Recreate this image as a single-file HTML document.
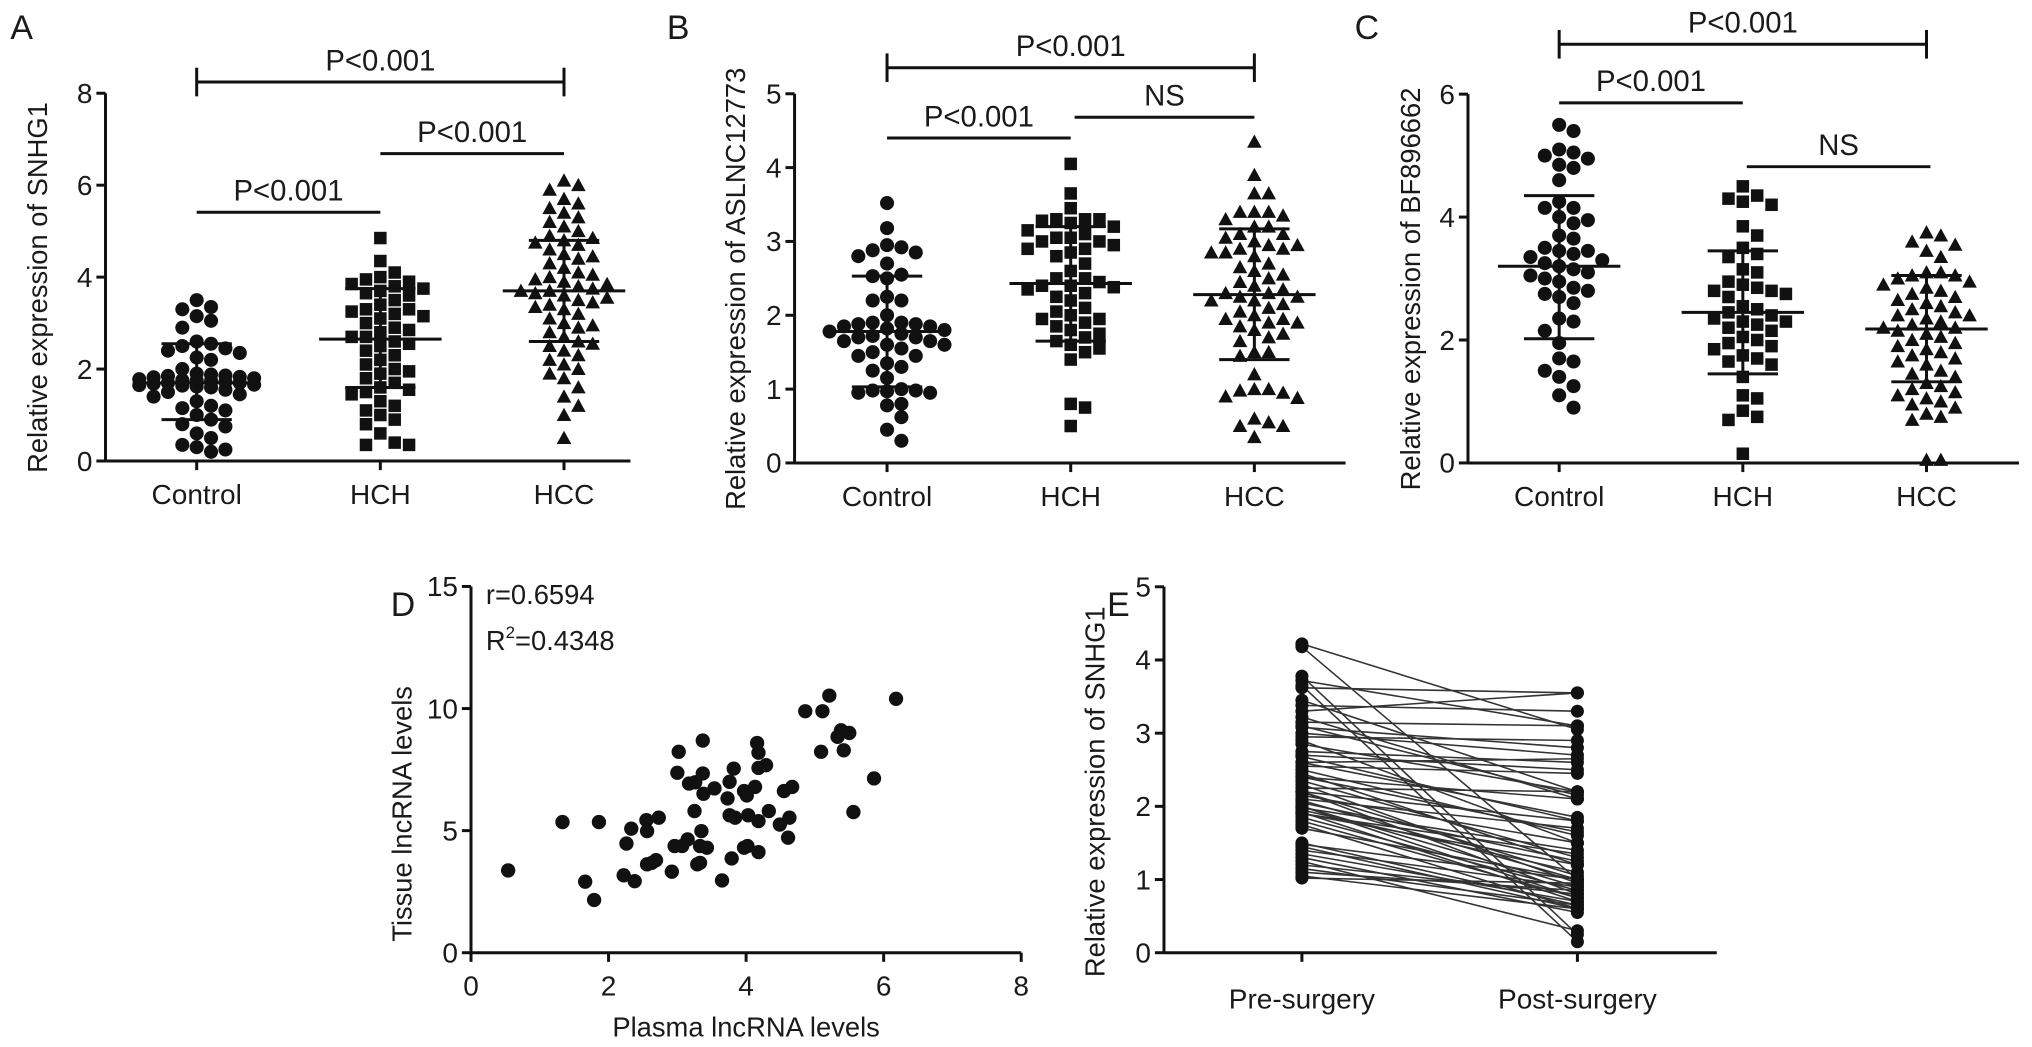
<!DOCTYPE html>
<html><head><meta charset="utf-8"><style>
html,body{margin:0;padding:0;background:#fff;}
svg{display:block;}
text{font-family:"Liberation Sans",Arial,sans-serif;fill:#1a1a1a;}
</style></head><body>
<svg id="fig" width="2032" height="1047" viewBox="0 0 1560 804" preserveAspectRatio="none" xmlns="http://www.w3.org/2000/svg"></svg>
<script>
// ---------- DATA ----------
const groupCats = ["Control","HCH","HCC"];
// Panel A: SNHG1
const aControl = [3.5,3.35,3.3,3.15,3.05,2.9,2.6,2.55,2.5,2.45,2.4,2.35,2.25,2.2,2.0,1.9,1.88,1.86,1.85,1.83,1.82,1.8,1.78,1.76,1.75,1.74,1.72,1.7,1.7,1.68,1.66,1.65,1.64,1.62,1.6,1.55,1.5,1.45,1.4,1.3,1.2,1.15,1.1,1.0,0.9,0.8,0.75,0.6,0.5,0.35,0.3,0.25,0.2];
const aHCH = [4.85,4.35,4.1,4.0,3.95,3.9,3.85,3.8,3.75,3.7,3.65,3.6,3.5,3.4,3.3,3.3,3.25,3.2,3.15,3.1,3.0,2.9,2.85,2.8,2.7,2.7,2.6,2.55,2.5,2.4,2.3,2.2,2.1,2.0,1.95,1.9,1.8,1.7,1.6,1.55,1.5,1.45,1.3,1.2,1.1,1.0,0.9,0.8,0.6,0.4,0.35,0.35];
const aHCC = [6.1,6.0,5.9,5.7,5.6,5.5,5.4,5.3,5.2,5.1,5.0,4.9,4.85,4.8,4.75,4.7,4.6,4.5,4.45,4.4,4.3,4.2,4.1,4.05,4.0,3.95,3.9,3.85,3.8,3.75,3.7,3.7,3.65,3.6,3.55,3.5,3.45,3.4,3.35,3.3,3.2,3.1,3.0,2.95,2.9,2.8,2.7,2.6,2.55,2.5,2.4,2.3,2.2,2.1,2.0,1.9,1.8,1.6,1.4,1.2,1.0,0.5];
const aMean = [1.7,2.65,3.7];
const aUpper = [2.55,3.75,4.8];
const aLower = [0.9,1.6,2.6];
const aTicks = [0,2,4,6,8];
// Panel B: ASLNC12773
const bControl = [3.52,3.18,2.95,2.92,2.88,2.85,2.8,2.7,2.55,2.53,2.5,2.25,2.2,2.2,2.0,1.9,1.9,1.88,1.88,1.85,1.85,1.82,1.8,1.78,1.75,1.72,1.7,1.7,1.65,1.65,1.6,1.6,1.55,1.5,1.45,1.45,1.35,1.3,1.25,1.15,1.0,0.98,0.98,0.97,0.95,0.95,0.8,0.78,0.62,0.45,0.3];
const bHCH = [4.05,3.65,3.45,3.3,3.3,3.3,3.28,3.25,3.2,3.15,3.1,3.05,3.05,3.0,3.0,2.95,2.9,2.9,2.85,2.8,2.7,2.6,2.5,2.5,2.45,2.4,2.4,2.38,2.35,2.3,2.25,2.2,2.1,2.05,2.0,1.95,1.95,1.9,1.85,1.8,1.75,1.7,1.65,1.6,1.55,1.5,1.4,0.8,0.75,0.5];
const bHCC = [4.35,3.9,3.65,3.65,3.4,3.4,3.4,3.35,3.3,3.2,3.2,3.1,3.1,3.05,3.0,2.95,2.95,2.9,2.9,2.85,2.85,2.8,2.7,2.65,2.6,2.55,2.5,2.45,2.4,2.35,2.3,2.3,2.25,2.25,2.2,2.2,2.15,2.1,2.05,2.0,1.95,1.95,1.9,1.9,1.85,1.8,1.75,1.7,1.65,1.5,1.5,1.45,1.2,1.0,1.0,0.98,0.95,0.9,0.88,0.6,0.55,0.5,0.5,0.35];
const bMean = [1.78,2.43,2.28];
const bUpper = [2.53,3.2,3.17];
const bLower = [1.03,1.65,1.4];
const bTicks = [0,1,2,3,4,5];
// Panel C: BF896662
const cControl = [5.5,5.4,5.1,5.05,5.0,4.95,4.85,4.8,4.6,4.25,4.15,4.15,4.0,3.95,3.9,3.7,3.65,3.5,3.45,3.45,3.4,3.35,3.3,3.25,3.2,3.15,3.1,3.05,3.0,2.95,2.85,2.8,2.75,2.7,2.6,2.35,2.3,2.15,1.95,1.7,1.65,1.5,1.4,1.25,1.1,0.9];
const cHCH = [4.5,4.35,4.3,4.25,4.2,3.85,3.7,3.5,3.4,3.35,3.15,3.1,2.95,2.9,2.85,2.8,2.8,2.75,2.7,2.55,2.5,2.45,2.4,2.35,2.3,2.3,2.25,2.2,2.15,2.05,2.0,1.95,1.9,1.85,1.75,1.7,1.65,1.6,1.4,1.1,1.05,0.85,0.75,0.7,0.15];
const cHCC = [3.75,3.7,3.6,3.55,3.45,3.35,3.1,3.1,3.05,3.05,3.0,2.95,2.9,2.85,2.8,2.75,2.7,2.65,2.6,2.55,2.5,2.45,2.4,2.4,2.35,2.3,2.25,2.2,2.2,2.15,2.1,2.05,2.0,1.95,1.9,1.85,1.8,1.75,1.7,1.65,1.6,1.5,1.45,1.4,1.3,1.25,1.2,1.15,1.1,1.05,1.0,0.95,0.9,0.8,0.75,0.7,0.05,0.05];
const cMean = [3.2,2.45,2.18];
const cUpper = [4.35,3.45,3.05];
const cLower = [2.02,1.45,1.32];
const cTicks = [0,2,4,6];
// Panel D: scatter plasma vs tissue
const dPlasma = [0.54,1.33,1.86,1.66,1.79,2.26,2.33,2.22,2.38,2.55,2.56,2.73,2.56,2.63,2.69,2.92,3.02,3.0,2.96,3.07,3.15,3.17,3.26,3.25,3.37,3.37,3.38,3.29,3.33,3.35,3.33,3.43,3.54,3.65,3.73,3.76,3.82,3.76,3.84,3.79,3.97,4.01,3.97,4.02,4.03,4.13,4.16,4.18,4.18,4.18,4.18,4.29,4.33,4.49,4.55,4.67,4.63,4.61,4.86,5.11,5.21,5.09,5.33,5.38,5.5,5.42,5.56,5.86,6.18];
const dTissue = [3.37,5.35,5.35,2.91,2.16,4.47,5.08,3.17,2.93,5.43,4.98,5.53,3.62,3.68,3.79,3.32,8.23,7.37,4.37,4.37,4.64,6.93,6.98,5.8,8.69,7.34,6.51,3.62,3.68,4.98,4.37,4.3,6.73,2.96,6.32,7.0,7.54,5.63,5.53,3.86,6.62,6.44,4.3,4.37,5.63,6.79,8.59,8.19,7.57,5.39,4.12,7.68,5.8,5.25,6.62,6.79,5.53,4.71,9.89,9.89,10.53,8.23,8.84,9.11,9.0,8.29,5.76,7.14,10.4];
const dXTicks = [0,2,4,6,8];
const dYTicks = [0,5,10,15];
// Panel E: paired pre/post
const ePre = [4.22,4.18,3.78,3.72,3.65,3.62,3.45,3.38,3.3,3.22,3.15,3.08,3.0,2.95,2.9,2.85,2.75,2.7,2.68,2.6,2.55,2.5,2.45,2.4,2.35,2.3,2.25,2.2,2.2,2.15,2.1,2.08,2.05,2.0,1.98,1.95,1.92,1.9,1.85,1.8,1.75,1.7,1.5,1.48,1.45,1.4,1.35,1.3,1.25,1.2,1.15,1.1,1.05,1.02,2.6,2.4,3.1,1.9,2.0,2.2];
const ePost = [3.05,1.0,0.25,3.1,0.15,3.55,2.2,3.3,3.55,2.1,3.1,2.8,2.7,2.9,1.5,2.2,2.6,2.5,1.8,2.65,2.45,1.6,1.2,2.1,1.3,0.95,2.2,1.8,0.8,1.5,1.7,1.0,1.25,0.9,1.4,1.1,0.7,1.2,0.85,0.75,0.6,1.0,0.65,1.0,0.6,0.9,0.7,0.55,0.3,0.8,0.65,0.85,0.6,0.95,1.85,1.65,2.15,1.35,0.75,1.05];
const eCats = ["Pre-surgery","Post-surgery"];
const eTicks = [0,1,2,3,4,5];

// ---------- DRAWING ----------
const NS = "http://www.w3.org/2000/svg";
const svg = document.getElementById('fig');
function mk(tag, attrs, parent){
  const e = document.createElementNS(NS, tag);
  for (const k in attrs) e.setAttribute(k, attrs[k]);
  (parent||svg).appendChild(e);
  return e;
}
function txt(s, x, y, size, anchor, parent, name, rot){
  const t = mk('text', {x:x, y:y, 'font-size':size, 'text-anchor':anchor||'middle'}, parent);
  if (rot) t.setAttribute('transform', 'rotate(-90 '+x+' '+y+')');
  t.textContent = s;
  
  
  return t;
}
function line(x1,y1,x2,y2,w,parent,name,color){
  const l = mk('line', {x1:x1,y1:y1,x2:x2,y2:y2,stroke:color||'#111','stroke-width':w||2.3}, parent);
  
  
  return l;
}
function beeswarm(vals, yScale, cx, diam){
  const placed = [];
  const sorted = vals.slice().sort((a,b)=>b-a);
  const step = diam*1.05, maxK = 4;
  sorted.forEach(v=>{
    const y = yScale(v);
    let best = cx, bestD = -1, chosen = null;
    for (let i=0;i<=maxK*2;i++){
      const off = (i===0)?0:Math.ceil(i/2)*(i%2?1:-1)*step;
      const x = cx + off;
      let minD = 1e9;
      for (const p of placed){ const dx=p[0]-x, dy=p[1]-y; const d=Math.sqrt(dx*dx+dy*dy); if (d<minD) minD=d; }
      if (minD >= diam*0.95){ chosen = x; break; }
      if (minD > bestD){ bestD = minD; best = x; }
    }
    placed.push([chosen!==null?chosen:best, y]);
  });
  return placed;
}
function marker(shape, x, y, parent){
  let m;
  if (shape==='circle') m = mk('circle',{cx:x,cy:y,r:5.4,fill:'#111'},parent);
  else if (shape==='square') m = mk('rect',{x:x-4.8,y:y-4.8,width:9.6,height:9.6,fill:'#111'},parent);
  else m = mk('polygon',{points:(x)+','+(y-5.6)+' '+(x+5.6)+','+(y+4.6)+' '+(x-5.6)+','+(y+4.6),fill:'#111'},parent);
  return m;
}

function dotPanel(cfg){
  const g = mk('g',{});
  
  
  const y = v => cfg.y0 - v*cfg.ppu;
  const xs = groupCats.map((c,i)=>cfg.cx0 + i*cfg.step);
  line(cfg.ax, y(cfg.ticks[cfg.ticks.length-1]), cfg.ax, cfg.y0+1, 2.3, g, 'y-axis-line');
  line(cfg.ax, cfg.y0, cfg.axEnd, cfg.y0, 2.3, g, 'x-axis-line');
  cfg.ticks.forEach(t=>{
    line(cfg.ax-7, y(t), cfg.ax, y(t), 2.3, g, 'y-tick');
    txt(String(t), cfg.ax-10, y(t)+7.5, 21.5, 'end', g, 'y-tick-label');
  });
  xs.forEach((x,i)=>{
    line(x, cfg.y0, x, cfg.y0+7, 2.3, g, 'x-tick');
    txt(groupCats[i], x, cfg.y0+33, 21.5, 'middle', g, 'x-tick-label-'+groupCats[i].toLowerCase());
  });
  txt(cfg.title, cfg.titleX, (y(cfg.ticks[cfg.ticks.length-1])+cfg.y0)/2 + 8, 21, 'middle', g, 'y-axis-title', true);
  txt(cfg.letter, cfg.letterX, 30, 26, 'start', g, 'panel-letter-'+cfg.letter.toLowerCase());
  const shapes = ['circle','square','triangle'];
  cfg.series.forEach((vals,i)=>{
    beeswarm(vals, y, xs[i], 10.5).forEach(p=>{
      const m = marker(shapes[i], p[0], p[1], g);
      
      
    });
  });
  xs.forEach((x,i)=>{
    line(x, y(cfg.upper[i]), x, y(cfg.lower[i]), 2.3, g, 'sd-whisker');
    line(x-47, y(cfg.mean[i]), x+47, y(cfg.mean[i]), 2.3, g, 'mean-line');
    line(x-27, y(cfg.upper[i]), x+27, y(cfg.upper[i]), 2.3, g, 'sd-cap-upper');
    line(x-27, y(cfg.lower[i]), x+27, y(cfg.lower[i]), 2.3, g, 'sd-cap-lower');
  });
  cfg.brackets.forEach(b=>{
    const x1 = xs[b[0]]+(b[4]||0), x2 = xs[b[1]]+(b[5]||0);
    line(x1, b[2], x2, b[2], 2.3, g, 'significance-bar');
    if (b[6]){ line(x1, b[2]-11, x1, b[2]+11, 2.3, g, 'bracket-end'); line(x2, b[2]-11, x2, b[2]+11, 2.3, g, 'bracket-end'); }
    txt(b[3], (x1+x2)/2, b[2]-9, 22.5, 'middle', g, 'significance-label');
  });
}

dotPanel({name:'panel-a', letter:'A', letterX:8, ax:81, axEnd:484, y0:354, ppu:35.3, cx0:151, step:141,
  ticks:aTicks, title:'Relative expression of SNHG1', titleX:36,
  series:[aControl,aHCH,aHCC], mean:aMean, upper:aUpper, lower:aLower,
  brackets:[[0,2,63,'P<0.001',0,0,true],[1,2,118,'P<0.001',0,0,false],[0,1,163,'P<0.001',0,0,false]]});
dotPanel({name:'panel-b', letter:'B', letterX:512, ax:610, axEnd:1033, y0:355.5, ppu:56.7, cx0:681, step:141,
  ticks:bTicks, title:'Relative expression of ASLNC12773', titleX:572,
  series:[bControl,bHCH,bHCC], mean:bMean, upper:bUpper, lower:bLower,
  brackets:[[0,2,52,'P<0.001',0,0,true],[1,2,90,'NS',3,0,false],[0,1,106,'P<0.001',0,0,false]]});
dotPanel({name:'panel-c', letter:'C', letterX:1040, ax:1127, axEnd:1550, y0:355.5, ppu:47.2, cx0:1197, step:141,
  ticks:cTicks, title:'Relative expression of BF896662', titleX:1090,
  series:[cControl,cHCH,cHCC], mean:cMean, upper:cUpper, lower:cLower,
  brackets:[[0,2,34,'P<0.001',0,0,true],[0,1,79,'P<0.001',0,0,false],[1,2,128,'NS',3,3,false]]});

// Panel D
(function(){
  const g = mk('g',{});
  
  
  const ax=361.6, y0=731.6, ppx=52.8, ppy=18.75;
  const X = v => ax + v*ppx, Y = v => y0 - v*ppy;
  line(ax, Y(15), ax, y0+1, 2.3, g, 'y-axis-line');
  line(ax, y0, X(8), y0, 2.3, g, 'x-axis-line');
  dYTicks.forEach(t=>{ line(ax-7,Y(t),ax,Y(t),2.3,g,'y-tick'); txt(String(t), ax-10, Y(t)+7.5, 21.5, 'end', g, 'y-tick-label'); });
  dXTicks.forEach(t=>{ line(X(t),y0,X(t),y0+7,2.3,g,'x-tick'); txt(String(t), X(t), y0+33, 21.5, 'middle', g, 'x-tick-label'); });
  txt('Tissue lncRNA levels', 316, 625, 21, 'middle', g, 'y-axis-title', true);
  txt('Plasma lncRNA levels', X(4), 796, 21, 'middle', g, 'x-axis-title');
  txt('D', 300, 473, 26, 'start', g, 'panel-letter-d');
  txt('r=0.6594', 373, 464, 21, 'start', g, 'correlation-r');
  const r2 = txt('', 373, 499, 21, 'start', g, 'r-squared');
  const t1 = mk('tspan',{},r2); t1.textContent='R';
  const t2 = mk('tspan',{dy:-9,'font-size':13},r2); t2.textContent='2';
  const t3 = mk('tspan',{dy:9},r2); t3.textContent='=0.4348';
  dPlasma.forEach((p,i)=>{
    const c = mk('circle',{cx:X(p),cy:Y(dTissue[i]),r:5.5,fill:'#111'},g);
    
    
  });
})();

// Panel E
(function(){
  const g = mk('g',{});
  
  
  const ax=893.6, y0=731.6, ppu=56.2;
  const Y = v => y0 - v*ppu;
  const xs = [999.5, 1211];
  line(ax, Y(5), ax, y0+1, 2.3, g, 'y-axis-line');
  line(ax, y0, 1318, y0, 2.3, g, 'x-axis-line');
  eTicks.forEach(t=>{ line(ax-7,Y(t),ax,Y(t),2.3,g,'y-tick'); txt(String(t), ax-10, Y(t)+7.5, 21.5, 'end', g, 'y-tick-label'); });
  xs.forEach((x,i)=>{ line(x,y0,x,y0+7,2.3,g,'x-tick'); txt(eCats[i], x, y0+43, 21.5, 'middle', g, 'x-tick-label-'+(i?'post':'pre')); });
  txt('Relative expression of SNHG1', 848, 608, 21, 'middle', g, 'y-axis-title', true);
  txt('E', 850, 473, 26, 'start', g, 'panel-letter-e');
  ePre.forEach((p,i)=>{
    line(xs[0], Y(p), xs[1], Y(ePost[i]), 1.2, g, 'paired-line', '#333');
  });
  ePre.forEach((p,i)=>{
    const a = mk('circle',{cx:xs[0],cy:Y(p),r:5,fill:'#111'},g);
    
    
    const b = mk('circle',{cx:xs[1],cy:Y(ePost[i]),r:5,fill:'#111'},g);
    
    
  });
})();
</script>
</body></html>
